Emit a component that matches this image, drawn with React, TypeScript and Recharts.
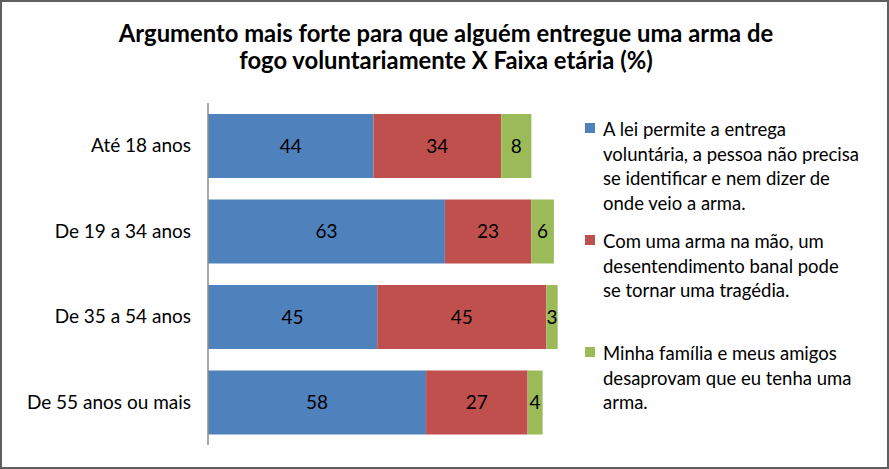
import React from "react";
import { BarChart, Bar, XAxis, YAxis, Legend, LabelList } from "recharts";

const categories = ["Até 18 anos", "De 19 a 34 anos", "De 35 a 54 anos", "De 55 anos ou mais"];
const leiValues = [44, 63, 45, 58];
const conflitoValues = [34, 23, 45, 27];
const familiaValues = [8, 6, 3, 4];
const seriesNames = [
  "A lei permite a entrega voluntária, a pessoa não precisa se identificar e nem dizer de onde veio a arma.",
  "Com uma arma na mão, um desentendimento banal pode se tornar uma tragédia.",
  "Minha família e meus amigos desaprovam que eu tenha uma arma.",
];
const legendLines = [
  ["A lei permite a entrega", "voluntária, a pessoa não precisa", "se identificar e nem dizer de", "onde veio a arma."],
  ["Com uma arma na mão, um", "desentendimento banal pode", "se tornar uma tragédia."],
  ["Minha família e meus amigos", "desaprovam que eu tenha uma", "arma."],
];
const colors = ["#4F81BD", "#C0504D", "#9BBB59"];
const titleLines = [
  "Argumento mais forte para que alguém entregue uma arma de",
  "fogo voluntariamente X Faixa etária (%)",
];

const data = categories.map((c, i) => ({
  name: c,
  lei: leiValues[i],
  conflito: conflitoValues[i],
  familia: familiaValues[i],
}));

const FONT = "Lato, 'Open Sans', sans-serif";

const renderLegend = () => {
  const tops = [0, 112, 224];
  return (
    <div style={{ position: "relative", width: 300, height: 320, fontFamily: FONT, fontSize: 18.5, color: "#000" }}>
      {legendLines.map((lines, i) => (
        <div key={i} style={{ position: "absolute", left: 0, top: tops[i] }}>
          <div style={{ position: "absolute", left: 0, top: 6, width: 10, height: 10, background: colors[i] }} />
          <div style={{ position: "absolute", left: 18, top: 0, lineHeight: "24.5px", whiteSpace: "nowrap" }}>
            {lines.map((l, j) => (
              <div key={j}>{l}</div>
            ))}
          </div>
        </div>
      ))}
    </div>
  );
};

export default function App() {
  return (
    <div style={{ position: "relative", width: 889, height: 469, background: "#fff", overflow: "hidden" }}>
      <style>{"body{margin:0;}"}</style>
      <BarChart
        width={889}
        height={469}
        data={data}
        layout="vertical"
        margin={{ top: 103, right: 5, bottom: 24, left: 18 }}
      >
        <text x={446} y={42} textAnchor="middle" style={{ fontFamily: FONT, fontWeight: 700, fontSize: 23.8 }} fill="#000">
          {titleLines[0]}
        </text>
        <text x={446} y={69} textAnchor="middle" style={{ fontFamily: FONT, fontWeight: 700, fontSize: 23.8 }} fill="#000">
          {titleLines[1]}
        </text>
        <XAxis type="number" domain={[0, 100]} hide />
        <YAxis
          type="category"
          dataKey="name"
          width={190}
          axisLine={{ stroke: "#8c8c8c", strokeWidth: 1.5 }}
          tickLine={false}
          tickMargin={11}
          tick={{ fill: "#000", fontSize: 19, fontFamily: FONT }}
        />
        <Legend
          layout="vertical"
          align="right"
          verticalAlign="top"
          content={renderLegend}
          wrapperStyle={{ left: 585, top: 117, width: 300 }}
        />
        <Bar dataKey="lei" name={seriesNames[0]} stackId="a" fill={colors[0]} barSize={64} isAnimationActive={false}>
          <LabelList dataKey="lei" position="center" fill="#000" style={{ fontFamily: FONT, fontSize: 19 }} />
        </Bar>
        <Bar dataKey="conflito" name={seriesNames[1]} stackId="a" fill={colors[1]} barSize={64} isAnimationActive={false}>
          <LabelList dataKey="conflito" position="center" fill="#000" style={{ fontFamily: FONT, fontSize: 19 }} />
        </Bar>
        <Bar dataKey="familia" name={seriesNames[2]} stackId="a" fill={colors[2]} barSize={64} isAnimationActive={false}>
          <LabelList dataKey="familia" position="center" fill="#000" style={{ fontFamily: FONT, fontSize: 19 }} />
        </Bar>
      </BarChart>
      <div
        style={{
          position: "absolute",
          left: 0,
          top: 0,
          width: 889,
          height: 469,
          boxSizing: "border-box",
          border: "2px solid #5f5f5f",
          pointerEvents: "none",
        }}
      />
    </div>
  );
}
